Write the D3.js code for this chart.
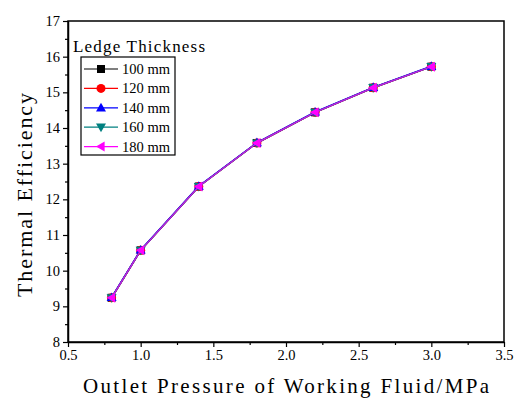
<!DOCTYPE html>
<html><head><meta charset="utf-8">
<script src="https://cdn.jsdelivr.net/npm/d3@7"></script>
<style>body{margin:0;background:#fff}svg{display:block}</style>
</head><body>
<svg id="c" width="515" height="399"></svg>
<script>
const pressures = [0.8, 1.0, 1.4, 1.8, 2.2, 2.6, 3.0];
const eff100 = [9.24, 10.57, 12.36, 13.58, 14.44, 15.13, 15.72];
const eff120 = [9.24, 10.57, 12.36, 13.58, 14.44, 15.13, 15.72];
const eff140 = [9.25, 10.58, 12.37, 13.59, 14.45, 15.14, 15.73];
const eff160 = [9.24, 10.57, 12.36, 13.58, 14.44, 15.13, 15.72];
const eff180 = [9.24, 10.57, 12.36, 13.58, 14.44, 15.13, 15.72];
const seriesNames = ["100 mm", "120 mm", "140 mm", "160 mm", "180 mm"];
const seriesColors = ["#000000", "#ff0000", "#0000ff", "#008080", "#ff00ff"];
const seriesSymbols = ["square", "circle", "triUp", "triDown", "triLeft"];
const xTicks = [0.5, 1.0, 1.5, 2.0, 2.5, 3.0, 3.5];
const yTicks = [8, 9, 10, 11, 12, 13, 14, 15, 16, 17];
const allSeries = [eff100, eff120, eff140, eff160, eff180];

const svg = d3.select("#c");
const L = 68, R = 504, T = 21, B = 342;
const x = d3.scaleLinear().domain([0.5, 3.5]).range([L, R]);
const y = d3.scaleLinear().domain([8, 17]).range([B, T]);

const serif = "'Liberation Serif','Times New Roman',serif";

// minor ticks
const xMinor = d3.range(0.75, 3.5, 0.5);
const yMinor = d3.range(8.5, 17, 1);
svg.append("g").attr("transform", `translate(0,${B})`)
  .call(d3.axisBottom(x).tickValues(xMinor).tickSize(3).tickFormat(""))
  .call(g => g.select(".domain").remove())
  .call(g => g.selectAll("line").attr("stroke-width", 1.2));
svg.append("g").attr("transform", `translate(${L},0)`)
  .call(d3.axisLeft(y).tickValues(yMinor).tickSize(3).tickFormat(""))
  .call(g => g.select(".domain").remove())
  .call(g => g.selectAll("line").attr("stroke-width", 1.2));

// major axes
const xa = svg.append("g").attr("transform", `translate(0,${B})`)
  .call(d3.axisBottom(x).tickValues(xTicks).tickSize(5).tickSizeOuter(0).tickPadding(3).tickFormat(d3.format(".1f")));
const ya = svg.append("g").attr("transform", `translate(${L},0)`)
  .call(d3.axisLeft(y).tickValues(yTicks).tickSize(5).tickSizeOuter(0).tickPadding(3).tickFormat(d3.format("d")));
[xa, ya].forEach(a => {
  a.selectAll("text").attr("font-family", serif).attr("font-size", 14.5).attr("fill", "#000");
  a.selectAll("line").attr("stroke-width", 1.2);
  a.select(".domain").attr("stroke-width", 1.5);
});
// frame
svg.append("rect").attr("x", L).attr("y", T).attr("width", R - L).attr("height", B - T)
  .attr("fill", "none").attr("stroke", "#000").attr("stroke-width", 1.5);

// symbols
function sym(g, type, cx, cy, color, s) {
  s = s || 4.5;
  if (type === "square") g.append("rect").attr("x", cx - s + 0.5).attr("y", cy - s + 0.5).attr("width", 2 * s - 1).attr("height", 2 * s - 1).attr("fill", color);
  else if (type === "circle") g.append("circle").attr("cx", cx).attr("cy", cy).attr("r", s).attr("fill", color);
  else {
    let pts;
    if (type === "triUp") pts = [[cx, cy - s - 0.5], [cx - s - 0.5, cy + s * 0.8], [cx + s + 0.5, cy + s * 0.8]];
    else if (type === "triDown") pts = [[cx, cy + s + 0.5], [cx - s - 0.5, cy - s * 0.8], [cx + s + 0.5, cy - s * 0.8]];
    else pts = [[cx - s - 0.5, cy], [cx + s * 0.8, cy - s - 0.5], [cx + s * 0.8, cy + s + 0.5]];
    g.append("polygon").attr("points", pts.map(p => p.join(",")).join(" ")).attr("fill", color);
  }
}

const line = d3.line().x((d, i) => x(pressures[i])).y(d => y(d));
allSeries.forEach((vals, k) => {
  const g = svg.append("g");
  g.append("path").datum(vals).attr("d", line).attr("fill", "none")
    .attr("stroke", seriesColors[k]).attr("stroke-width", 1.5)
    .attr("opacity", k === 4 ? 0.75 : 1);
  vals.forEach((v, i) => sym(g, seriesSymbols[k], x(pressures[i]), y(v), seriesColors[k]));
});

// legend
svg.append("text").attr("x", 73).attr("y", 52).attr("font-family", serif).attr("font-size", 17)
  .attr("textLength", 132).attr("lengthAdjust", "spacing").text("Ledge Thickness");
svg.append("rect").attr("x", 81).attr("y", 57).attr("width", 94).attr("height", 98)
  .attr("fill", "#fff").attr("stroke", "#000").attr("stroke-width", 1.2);
seriesNames.forEach((n, k) => {
  const yy = 69 + k * 19.4;
  svg.append("line").attr("x1", 84).attr("x2", 118).attr("y1", yy).attr("y2", yy)
    .attr("stroke", seriesColors[k]).attr("stroke-width", 1.2);
  sym(svg, seriesSymbols[k], 101, yy, seriesColors[k], 4.5);
  svg.append("text").attr("x", 122).attr("y", yy + 5).attr("font-family", serif).attr("font-size", 14.5).text(n);
});

// axis titles
svg.append("text").attr("x", 83).attr("y", 393)
  .attr("font-family", serif).attr("font-size", 21)
  .attr("textLength", 406).attr("lengthAdjust", "spacing").text("Outlet Pressure of Working Fluid/MPa");
svg.append("text").attr("transform", `translate(32,297) rotate(-90)`)
  .attr("font-family", serif).attr("font-size", 22)
  .attr("textLength", 204).attr("lengthAdjust", "spacing").text("Thermal Efficiency");
</script>
</body></html>
